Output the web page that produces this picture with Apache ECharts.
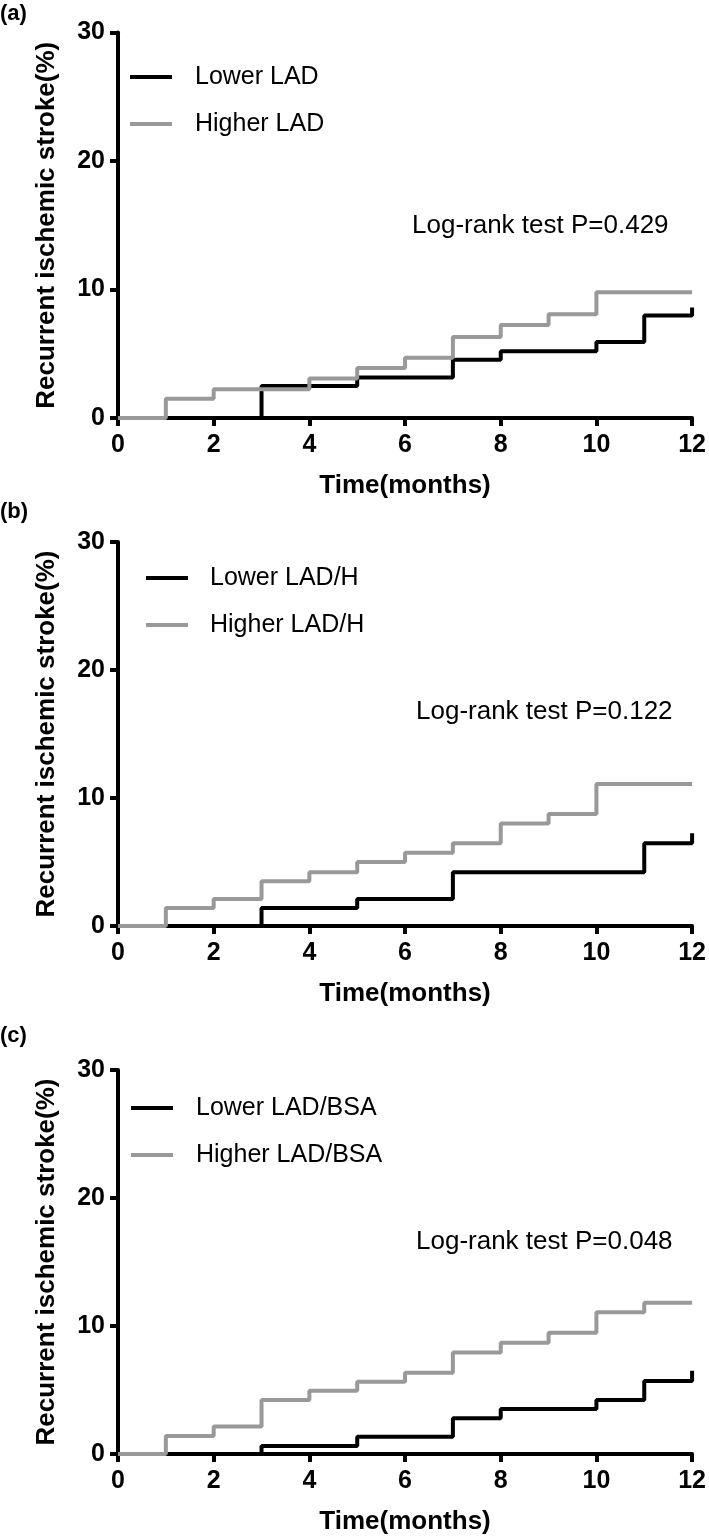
<!DOCTYPE html>
<html>
<head>
<meta charset="utf-8">
<script src="https://cdn.jsdelivr.net/npm/echarts@6/dist/echarts.min.js"></script>
<style>
html,body{margin:0;padding:0;background:#fff;}
#chart{width:709px;height:1539px;}
</style>
</head>
<body>
<div id="chart"></div>
<script>
// ---- Data ----
var panelLabels = ['(a)', '(b)', '(c)'];
var lowerNames = ['Lower LAD', 'Lower LAD/H', 'Lower LAD/BSA'];
var higherNames = ['Higher LAD', 'Higher LAD/H', 'Higher LAD/BSA'];
var pValueTexts = ['Log-rank test P=0.429', 'Log-rank test P=0.122', 'Log-rank test P=0.048'];
var xTicks = [0, 2, 4, 6, 8, 10, 12];
var yTicks = [0, 10, 20, 30];

// Panel (a)
var lowerTimesA  = [0, 3, 5, 7, 8, 10, 11, 12, 12];
var lowerValsA   = [0, 2.5, 3.16, 4.53, 5.2, 5.92, 7.97, 7.97, 8.6];
var higherTimesA = [0, 1, 2, 4, 5, 6, 7, 8, 9, 10, 12];
var higherValsA  = [0, 1.5, 2.24, 3.08, 3.9, 4.68, 6.3, 7.24, 8.08, 9.79, 9.79];

// Panel (b)
var lowerTimesB  = [0, 3, 5, 7, 11, 12, 12];
var lowerValsB   = [0, 1.4, 2.1, 4.2, 6.46, 6.46, 7.24];
var higherTimesB = [0, 1, 2, 3, 4, 5, 6, 7, 8, 9, 10, 12];
var higherValsB  = [0, 1.4, 2.1, 3.5, 4.2, 5.0, 5.73, 6.46, 8.0, 8.75, 11.1, 11.1];

// Panel (c)
var lowerTimesC  = [0, 3, 5, 7, 8, 10, 11, 12, 12];
var lowerValsC   = [0, 0.63, 1.35, 2.79, 3.52, 4.22, 5.7, 5.7, 6.5];
var higherTimesC = [0, 1, 2, 3, 4, 5, 6, 7, 8, 9, 10, 11, 12];
var higherValsC  = [0, 1.41, 2.14, 4.22, 4.95, 5.65, 6.35, 7.92, 8.7, 9.48, 11.07, 11.82, 11.82];

var lowerTimes = [lowerTimesA, lowerTimesB, lowerTimesC];
var lowerVals = [lowerValsA, lowerValsB, lowerValsC];
var higherTimes = [higherTimesA, higherTimesB, higherTimesC];
var higherVals = [higherValsA, higherValsB, higherValsC];

// ---- Layout ----
var FONT = '"Liberation Sans", Arial, sans-serif';
var grids = [
  {left: 118, top: 32.5, width: 577, height: 385.5},
  {left: 118, top: 542, width: 577, height: 384},
  {left: 118, top: 1070, width: 577, height: 384}
];
var legendPos = [
  {lineX: 130, textX: 195, y1: 77, y2: 124},
  {lineX: 146, textX: 210, y1: 578, y2: 625},
  {lineX: 131, textX: 196, y1: 1108, y2: 1155}
];
var pValPos = [{x: 412, y: 226}, {x: 416, y: 712}, {x: 416, y: 1242}];
var panelLabelY = [14, 512, 1036];

function zip(ts, vs) { return ts.map(function (t, i) { return [t, vs[i]]; }); }

var xAxes = [], yAxes = [], series = [], graphics = [];
for (var i = 0; i < 3; i++) {
  xAxes.push({
    type: 'value', gridIndex: i, min: 0, max: 12, interval: 2,
    name: 'Time(months)', nameLocation: 'middle', nameGap: 55,
    nameTextStyle: {fontFamily: FONT, fontWeight: 'bold', fontSize: 26, color: '#000'},
    axisLine: {show: true, onZero: false, lineStyle: {color: '#000', width: 4}},
    axisTick: {show: true, inside: false, length: 8, lineStyle: {color: '#000', width: 4}},
    axisLabel: {fontFamily: FONT, fontWeight: 'bold', fontSize: 25, color: '#000', margin: 15,
      formatter: function (v) { return xTicks.indexOf(v) >= 0 ? String(v) : ''; }},
    splitLine: {show: false}
  });
  yAxes.push({
    type: 'value', gridIndex: i, min: 0, max: 30, interval: 10,
    name: 'Recurrent ischemic stroke(%)', nameLocation: 'middle', nameGap: 58,
    nameTextStyle: {fontFamily: FONT, fontWeight: 'bold', fontSize: 26, color: '#000'},
    axisLine: {show: true, onZero: false, lineStyle: {color: '#000', width: 4}},
    axisTick: {show: true, inside: false, length: 8, lineStyle: {color: '#000', width: 4}},
    axisLabel: {fontFamily: FONT, fontWeight: 'bold', fontSize: 25, color: '#000', margin: 13,
      formatter: function (v) { return yTicks.indexOf(v) >= 0 ? String(v) : ''; }},
    splitLine: {show: false}
  });
  series.push({
    name: lowerNames[i], type: 'line', xAxisIndex: i, yAxisIndex: i, step: 'end',
    showSymbol: false, symbol: 'none', data: zip(lowerTimes[i], lowerVals[i]),
    lineStyle: {color: '#000', width: 4}, itemStyle: {color: '#000'}, z: 3, animation: false
  });
  series.push({
    name: higherNames[i], type: 'line', xAxisIndex: i, yAxisIndex: i, step: 'end',
    showSymbol: false, symbol: 'none', data: zip(higherTimes[i], higherVals[i]),
    lineStyle: {color: '#999', width: 4}, itemStyle: {color: '#999'}, z: 4, animation: false
  });
  var lp = legendPos[i];
  graphics.push({type: 'line', shape: {x1: lp.lineX, y1: lp.y1, x2: lp.lineX + 42, y2: lp.y1},
    style: {stroke: '#000', lineWidth: 4}});
  graphics.push({type: 'text', x: lp.textX, y: lp.y1,
    style: {text: lowerNames[i], font: '25px ' + FONT, fill: '#000', textVerticalAlign: 'middle', verticalAlign: 'middle'}});
  graphics.push({type: 'line', shape: {x1: lp.lineX, y1: lp.y2, x2: lp.lineX + 42, y2: lp.y2},
    style: {stroke: '#999', lineWidth: 4}});
  graphics.push({type: 'text', x: lp.textX, y: lp.y2,
    style: {text: higherNames[i], font: '25px ' + FONT, fill: '#000', textVerticalAlign: 'middle', verticalAlign: 'middle'}});
  graphics.push({type: 'text', x: pValPos[i].x, y: pValPos[i].y,
    style: {text: pValueTexts[i], font: '26px ' + FONT, fill: '#000', textVerticalAlign: 'middle', verticalAlign: 'middle'}});
  graphics.push({type: 'text', x: 0, y: panelLabelY[i],
    style: {text: panelLabels[i], font: 'bold 22px ' + FONT, fill: '#000', textVerticalAlign: 'middle', verticalAlign: 'middle'}});
}

var chart = echarts.init(document.getElementById('chart'), null, {renderer: 'canvas'});
chart.setOption({
  animation: false,
  backgroundColor: '#fff',
  grid: grids,
  xAxis: xAxes,
  yAxis: yAxes,
  series: series,
  graphic: graphics
});
</script>
</body>
</html>
